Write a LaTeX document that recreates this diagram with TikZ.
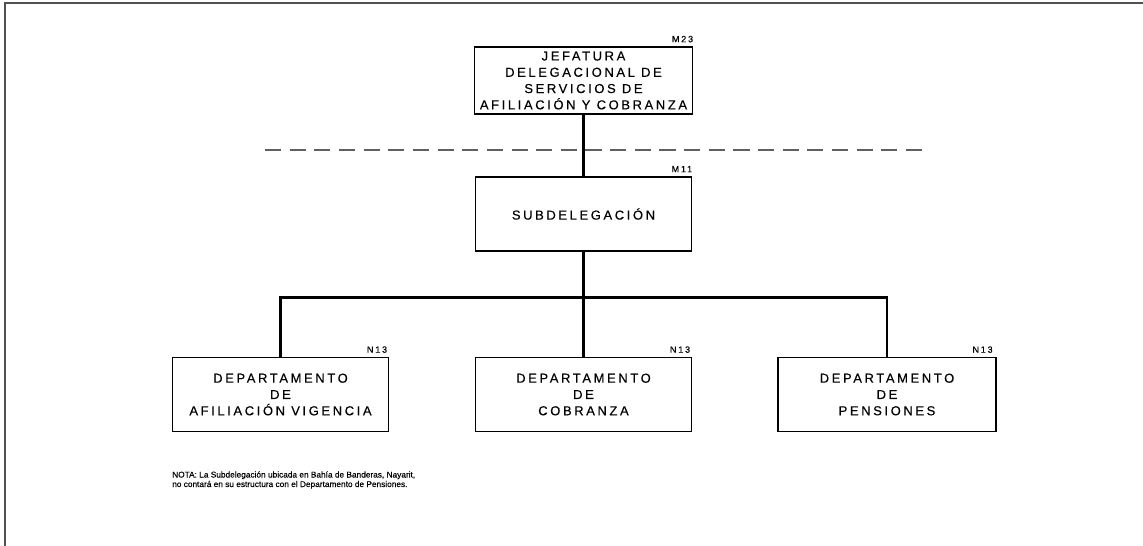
\documentclass[tikz,border=0pt]{standalone}
\usepackage{fontspec}
\setmainfont{Liberation Sans}
\newfontfamily\boxfont[LetterSpace=20,FakeBold=0.35]{Liberation Sans}
\newfontfamily\notefont[FakeBold=0.3]{Liberation Sans}
\definecolor{framegray}{HTML}{505050}
\definecolor{dashgray}{HTML}{606060}
\begin{document}
\begin{tikzpicture}[x=1pt,y=-1pt,
  orgbox/.style={draw=black,line width=1.6pt,minimum width=216pt,minimum height=74pt,
    inner sep=0pt,align=center,font=\boxfont\fontsize{13}{16.3}\selectfont},
  conn/.style={line width=2.4pt,black,line join=miter},
  codelabel/.style={font=\boxfont\fontsize{9}{9}\selectfont,anchor=base east,inner sep=0pt,yshift=4pt},
  notetext/.style={font=\notefont\fontsize{8.3}{9.5}\selectfont,anchor=base west,inner sep=0pt,align=left}]
\useasboundingbox (0,0) rectangle (1143,546);
% frame
\draw[line width=2.2pt,framegray] (5,546) -- (5,3) -- (1143,3);
% boxes
\node[orgbox,minimum width=218pt,minimum height=67pt] (jef) at (583.5,80.5)
  {JEFATURA\\DELEGACIONAL DE\\SERVICIOS DE\\AFILIACIÓN Y COBRANZA};
\node[orgbox] (sub) at (583.5,214) {SUBDELEGACIÓN};
\node[orgbox] (dafi) at (280.5,394.5) {DEPARTAMENTO\\DE\\AFILIACIÓN VIGENCIA};
\node[orgbox] (dcob) at (583.5,394.5) {DEPARTAMENTO\\DE\\COBRANZA};
\node[orgbox,minimum width=218pt] (dpen) at (887,394.5) {DEPARTAMENTO\\DE\\PENSIONES};
% code labels
\node[codelabel] (ljef) at (jef.north east) {M23};
\node[codelabel] (lsub) at (sub.north east) {M11};
\node[codelabel] (lafi) at ([xshift=-2pt]dafi.north east) {N13};
\node[codelabel] (lcob) at ([xshift=-2pt]dcob.north east) {N13};
\node[codelabel] (lpen) at ([xshift=-4pt]dpen.north east) {N13};
% dashed separation line
\draw[dash pattern=on 16.15pt off 8.5pt,line width=2pt,dashgray] (265,150) -- (922,150);
% connectors
\coordinate (bar) at (583.5,297.5);
\draw[conn] (jef.south) -- (sub.north);
\draw[conn] (sub.south) -- (bar) -- (dcob.north);
\draw[conn] (dafi.north) -- (dafi.north |- bar) -- (dpen.north |- bar) -- (dpen.north);
% note
\node[notetext] (note) at (172,487)
  {NOTA: La Subdelegación ubicada en Bahía de Banderas, Nayarit,\\no contará en su estructura con el Departamento de Pensiones.};
\end{tikzpicture}
\end{document}
